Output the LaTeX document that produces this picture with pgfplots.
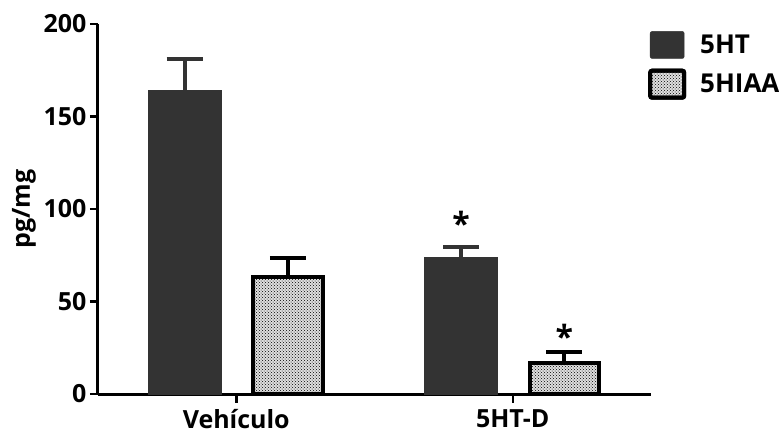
\documentclass[border=0pt]{standalone}
\usepackage{pgfplots}
\pgfplotsset{compat=1.18}
\usetikzlibrary{patterns}
\usepackage{fontspec}
\setmainfont{Open Sans}

\definecolor{barDark}{HTML}{333333}

\pgfplotsset{
  boxlegend/.style={
    legend image code/.code={
      \draw[##1, rounded corners=2pt] (0pt,-13.5pt) rectangle (34pt,13.5pt);
    }
  }
}

\begin{document}
\begin{tikzpicture}
\begin{axis}[
  at={(0,0)}, anchor=south west,
  scale only axis, width=553pt, height=370pt,
  xmin=-0.5, xmax=1.5, ymin=0, ymax=200,
  axis x line*=bottom, axis y line*=left,
  axis line style={line width=3pt, -},
  xtick={0,1}, xticklabels={Vehículo,5HT-D},
  ytick={0,50,...,200},
  tick align=outside, major tick length=8pt,
  tick style={line width=2.5pt, black},
  xtick style={draw=none},
  /pgf/number format/assume math mode=true,
  tick label style={font=\fontsize{25}{30}\selectfont\bfseries},
  xticklabel style={yshift=-4pt},
  ylabel={pg/mg},
  ylabel style={font=\fontsize{25}{30}\selectfont\bfseries, at={(axis description cs:-0.134,0.5)}, anchor=center},
  legend style={draw=none, fill=none, at={(axis description cs:1,1)}, anchor=north west,
    font=\fontsize{26}{30}\selectfont\bfseries, row sep=10pt, column sep=12pt, xshift=-6pt, yshift=-5pt},
  legend cell align=left,
  clip=false,
]
% 5HT
\addplot[ybar, bar width=0.264, bar shift=0pt, fill=barDark, draw=barDark, line width=0.5pt, boxlegend,
  error bars/.cd, y dir=plus, y explicit, error mark=|,
  error bar style={line width=4pt, barDark},
  error mark options={line width=4pt, mark size=18pt, barDark}]
  coordinates {(-0.187,164) +- (0,17) (0.813,74) +- (0,5.7)};
\addlegendentry{5HT}
% 5HIAA
\addplot[ybar, bar width=0.25, bar shift=0pt, fill=gray!25, draw=black, line width=4pt,
  postaction={pattern=crosshatch dots, pattern color=black}, boxlegend,
  error bars/.cd, y dir=plus, y explicit, error mark=|,
  error bar style={line width=4pt, black},
  error mark options={line width=4pt, mark size=18pt, black}]
  coordinates {(0.187,63.5) +- (0,10.2) (1.187,17) +- (0,5.7)};
\addlegendentry{5HIAA}
% category ticks below the x axis
\draw[line width=2.5pt] (axis cs:0,0) -- ++(0pt,-9pt);
\draw[line width=2.5pt] (axis cs:1,0) -- ++(0pt,-9pt);
% significance marks
\node[font=\fontsize{32}{32}\selectfont\bfseries] at (axis cs:0.813,92) {*};
\node[font=\fontsize{32}{32}\selectfont\bfseries] at (axis cs:1.187,31) {*};
\end{axis}
\pgfresetboundingbox
\path[use as bounding box] (-98pt,-46pt) rectangle (681pt,394pt);
\end{tikzpicture}
\end{document}
